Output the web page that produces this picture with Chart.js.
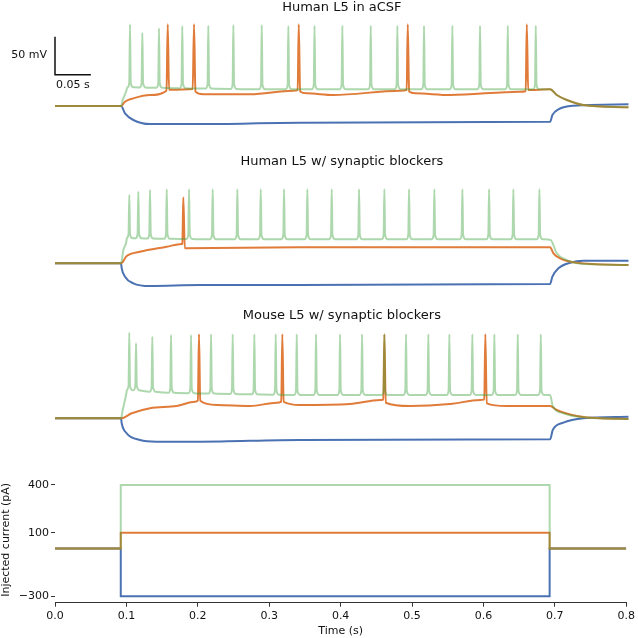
<!DOCTYPE html>
<html>
<head>
<meta charset="utf-8">
<script src="https://cdn.jsdelivr.net/npm/chart.js@4.4.0/dist/chart.umd.min.js"></script>
<style>
  html, body { margin: 0; padding: 0; background: #fff; }
  #wrap { position: relative; width: 638px; height: 638px; }
  canvas { position: absolute; left: 0; }
</style>
</head>
<body>
<div id="wrap">
  <canvas id="p1" style="top:0px" width="638" height="140"></canvas>
  <canvas id="p2" style="top:145px" width="638" height="150"></canvas>
  <canvas id="p3" style="top:300px" width="638" height="155"></canvas>
  <canvas id="p4" style="top:460px" width="638" height="178"></canvas>
</div>
<script>
// ---- data (time in s, voltage in mV, current in pA) ----
const xTicks = [0, 0.1, 0.2, 0.3, 0.4, 0.5, 0.6, 0.7, 0.8];
const currentTicks = [-300, 100, 400];

// injected current steps
const curT = [0, 0.0921, 0.0921, 0.6927, 0.6927, 0.8];
const curGreen = [0, 0, 400, 400, 0, 0];
const curOrange = [0, 0, 100, 100, 0, 0];
const curBlue = [0, 0, -300, -300, 0, 0];

// Human L5 in aCSF
const p1BlueT = [0, 0.0921, 0.0976, 0.1092, 0.1325, 0.2022, 0.3417, 0.6904, 0.6936, 0.702, 0.7229, 0.8];
const p1BlueV = [-70, -70, -79.6, -88.4, -93.7, -93.7, -92, -90.7, -81.8, -74.3, -69.6, -67.8];
const p1OrangeT = [0, 0.0921, 0.0976, 0.1092, 0.1325, 0.1555, 0.1572, 0.1590, 0.1920, 0.1939, 0.1958, 0.2068, 0.2720, 0.3320, 0.3384, 0.3399, 0.3418, 0.3510, 0.3881, 0.4810, 0.4904, 0.4919, 0.4938, 0.5021, 0.5509, 0.6485, 0.6564, 0.6579, 0.6598, 0.6649, 0.6904, 0.6997, 0.7137, 0.7368, 0.8];
const p1OrangeV = [-70, -70, -64.3, -59.9, -55.5, -49.9, 37.5, -48.5, -47.5, 37.5, -51, -54.6, -54.6, -49.9, -49, 37.5, -51, -53.3, -55.5, -49.9, -49, 37.5, -51, -53.3, -55.5, -51.2, -50.5, 37.5, -49, -48.9, -48, -55.5, -62.1, -68.7, -71.7];
const p1GreenPreT = [0, 0.0921, 0.0944, 0.0990];
const p1GreenPreV = [-70, -70, -62.1, -51.2];
const p1GreenSpikes = [0.1046, 0.1218, 0.1450, 0.1775, 0.2138, 0.2487, 0.2883, 0.3254, 0.3619, 0.4007, 0.4403, 0.4774, 0.5146, 0.5541, 0.5927, 0.6314, 0.6704];
const p1GreenPeaks = [37.5, 26.4, 32.2, 35.3, 35.7, 36.6, 36.6, 35.3, 35.7, 35.7, 35.7, 35.7, 35.7, 35.7, 35.7, 35.7, 35.7];
const p1GreenBases = [-45.4, -45.5, -46, -46.5, -47, -47.5, -48, -48, -48, -48, -48, -48, -48, -48, -48, -48, -48];
const p1GreenPostT = [0.6904, 0.6997, 0.7137, 0.7368, 0.8];
const p1GreenPostV = [-48, -55.5, -62.1, -68.7, -71.7];

// Human L5 w/ synaptic blockers
const p2BlueT = [0, 0.0921, 0.093, 0.0976, 0.1092, 0.1325, 0.2022, 0.3417, 0.6904, 0.6936, 0.702, 0.7183, 0.7368, 0.8];
const p2BlueV = [-70, -70, -76.6, -87.6, -96.3, -99.9, -98.6, -98.6, -97.2, -87.6, -76.6, -69.2, -66.6, -66.6];
const p2OrangeT = [0, 0.0921, 0.1000, 0.1185, 0.1558, 0.1767, 0.1776, 0.1789, 0.1810, 0.3417, 0.6671, 0.6904, 0.6950, 0.7043, 0.7276, 0.8];
const p2OrangeV = [-70, -70, -60.4, -54.7, -48.2, -44.6, -44.3, 16.8, -50.3, -48.9, -48.9, -48.9, -56.8, -63.4, -69.2, -72.2];
const p2GreenPreT = [0, 0.0921, 0.0953, 0.0995];
const p2GreenPreV = [-70, -70, -52.5, -41.6];
const p2GreenSpikes = [0.1036, 0.1162, 0.1325, 0.1558, 0.1869, 0.2199, 0.2543, 0.2869, 0.3194, 0.3519, 0.3859, 0.4240, 0.4593, 0.4937, 0.5290, 0.5681, 0.6053, 0.6392, 0.6755];
const p2GreenPeaks = [19.9, 24.2, 26.4, 27.4, 27.4, 27.4, 27.4, 27.4, 27.4, 27.4, 27.4, 27.4, 27.4, 27.4, 27.4, 27.4, 27.4, 27.4, 27.4];
const p2GreenBases = [-37.1, -37.1, -37.5, -37.8, -38, -38.4, -38.4, -38.4, -38.4, -38.4, -38.4, -38.4, -38.4, -38.4, -38.4, -38.4, -38.4, -38.4, -38.4];
const p2GreenPostT = [0.6911, 0.6997, 0.7137, 0.7368, 0.8];
const p2GreenPostV = [-39.3, -56.8, -65.7, -70.9, -72.2];

// Mouse L5 w/ synaptic blockers
const p3BlueT = [0, 0.0921, 0.093, 0.1, 0.1185, 0.1418, 0.2022, 0.3417, 0.6904, 0.6941, 0.7089, 0.7368, 0.8];
const p3BlueV = [-70, -70, -76.6, -89.7, -98.6, -100.8, -100.8, -98.6, -97.6, -85.4, -75.8, -70, -67.9];
const p3OrangeT = [0, 0.0921, 0.107, 0.1325, 0.1697, 0.1953, 0.1992, 0.2008, 0.2025, 0.2255, 0.272, 0.3092, 0.3155, 0.317, 0.3188, 0.3417, 0.4114, 0.4533, 0.4578, 0.4593, 0.4612, 0.4951, 0.5509, 0.5927, 0.5986, 0.6001, 0.602, 0.63, 0.6904, 0.6997, 0.7276, 0.7601, 0.8];
const p3OrangeV = [-70, -70, -63.4, -56.8, -53.8, -48.2, -46.5, 40.5, -47, -52.5, -53.8, -49.5, -48, 40.5, -48.2, -52.5, -51.2, -45.9, -45, 40.5, -49.5, -53.8, -51.2, -45.9, -45, 40.5, -50.3, -53.8, -53.8, -59.1, -67, -70, -70.9];
const p3GreenPreT = [0, 0.0921, 0.0944, 0.0976, 0.0995];
const p3GreenPreV = [-70, -70, -59.1, -45.9, -37];
const p3GreenSpikes = [0.1036, 0.1130, 0.1357, 0.1618, 0.1897, 0.2176, 0.2478, 0.2780, 0.3078, 0.3371, 0.3640, 0.3975, 0.4282, 0.4593, 0.4895, 0.5206, 0.5499, 0.5820, 0.6127, 0.6453, 0.6774];
const p3GreenPeaks = [42.6, 28.7, 37.4, 39.6, 39.6, 40.5, 40.5, 40.5, 40.5, 40.5, 40.5, 40.5, 40.5, 40.5, 40.5, 40.5, 40.5, 40.5, 40.5, 40.5, 40.5];
const p3GreenBases = [-33, -33, -35, -36.5, -37, -37.5, -38, -38.5, -39, -39.3, -39.3, -39.3, -39.3, -39.3, -39.3, -39.3, -39.3, -39.3, -39.3, -39.3, -39.3];
const p3GreenPostT = [0.6904, 0.6941, 0.7089, 0.7368, 0.8];
const p3GreenPostV = [-39.3, -53.8, -63.4, -68.7, -70.9];

// ---- drawing ----
const BLUE = '#4a72b3';
const ORANGE = '#e07b39';
const GREEN = 'rgba(60,160,60,0.42)';
const FONT = 'DejaVu Sans';

function pts(T, V) {
  return T.map((t, i) => ({ x: t, y: V[i] }));
}

// spike outline: shoulder before, foot, peak, foot, shoulder after (s / mV offsets)
const SP_PRE = 0.0035, SP_W = 0.0010, SP_POST = 0.0045, SP_FOOT = 6;
function spikeTrain(preT, preV, times, peaks, bases, postT, postV) {
  let out = pts(preT, preV);
  times.forEach((t, i) => {
    const b = bases[i];
    out.push(
      { x: t - SP_PRE, y: b },
      { x: t - SP_W, y: b + SP_FOOT },
      { x: t, y: peaks[i] },
      { x: t + SP_W, y: b + SP_FOOT },
      { x: t + SP_POST, y: b }
    );
  });
  return out.concat(pts(postT, postV));
}

function lineSet(data, color, order) {
  return { data: data, borderColor: color, borderWidth: 2, pointRadius: 0, order: order, fill: false };
}

function titlePlugin(text, y) {
  return {
    id: 'panelTitle',
    afterDraw(chart) {
      const ctx = chart.ctx, a = chart.chartArea;
      ctx.save();
      ctx.font = '13px "' + FONT + '"';
      ctx.fillStyle = '#111';
      ctx.textAlign = 'center';
      ctx.textBaseline = 'alphabetic';
      ctx.fillText(text, (a.left + a.right) / 2, y);
      ctx.restore();
    }
  };
}

const scaleBar = {
  id: 'scaleBar',
  afterDraw(chart) {
    const ctx = chart.ctx, x = chart.scales.x, y = chart.scales.y;
    const x0 = x.getPixelForValue(0), x1 = x.getPixelForValue(0.05);
    const y0 = y.getPixelForValue(-28.8), y1 = y.getPixelForValue(-28.8 + 50);
    ctx.save();
    ctx.strokeStyle = '#111';
    ctx.lineWidth = 1.5;
    ctx.beginPath();
    ctx.moveTo(x0, y1);
    ctx.lineTo(x0, y0);
    ctx.lineTo(x1, y0);
    ctx.stroke();
    ctx.font = '11px "' + FONT + '"';
    ctx.fillStyle = '#111';
    ctx.textAlign = 'right';
    ctx.fillText('50 mV', x0 - 8, (y0 + y1) / 2 + 2);
    ctx.textAlign = 'left';
    ctx.fillText('0.05 s', x0 + 1, y0 + 13);
    ctx.restore();
  }
};

function voltageChart(id, title, titleY, yMin, yMax, blue, orange, green, extra) {
  return new Chart(document.getElementById(id), {
    type: 'line',
    data: { datasets: [lineSet(green, GREEN, 1), lineSet(orange, ORANGE, 2), lineSet(blue, BLUE, 3)] },
    options: {
      responsive: false,
      animation: false,
      devicePixelRatio: 1,
      layout: { padding: { left: 55, right: 9.3, top: 0, bottom: 0 } },
      elements: { line: { cubicInterpolationMode: 'monotone', borderJoinStyle: 'round' } },
      scales: {
        x: { type: 'linear', min: 0, max: 0.8, display: false },
        y: { type: 'linear', min: yMin, max: yMax, display: false }
      },
      plugins: { legend: { display: false }, tooltip: { enabled: false } }
    },
    plugins: [titlePlugin(title, titleY)].concat(extra || [])
  });
}

voltageChart('p1', 'Human L5 in aCSF', 11, -114.7, 69.5,
  pts(p1BlueT, p1BlueV), pts(p1OrangeT, p1OrangeV),
  spikeTrain(p1GreenPreT, p1GreenPreV, p1GreenSpikes, p1GreenPeaks, p1GreenBases, p1GreenPostT, p1GreenPostV),
  [scaleBar]);

voltageChart('p2', 'Human L5 w/ synaptic blockers', 20, -111.7, 85.7,
  pts(p2BlueT, p2BlueV), pts(p2OrangeT, p2OrangeV),
  spikeTrain(p2GreenPreT, p2GreenPreV, p2GreenSpikes, p2GreenPeaks, p2GreenBases, p2GreenPostT, p2GreenPostV));

voltageChart('p3', 'Mouse L5 w/ synaptic blockers', 18.5, -118.3, 85.7,
  pts(p3BlueT, p3BlueV), pts(p3OrangeT, p3OrangeV),
  spikeTrain(p3GreenPreT, p3GreenPreV, p3GreenSpikes, p3GreenPeaks, p3GreenBases, p3GreenPostT, p3GreenPostV));

const tickFont = { family: FONT, size: 11 };
new Chart(document.getElementById('p4'), {
  type: 'line',
  data: {
    datasets: [
      lineSet(pts(curT, curGreen), GREEN, 1),
      lineSet(pts(curT, curOrange), ORANGE, 2),
      lineSet(pts(curT, curBlue), BLUE, 3)
    ]
  },
  options: {
    responsive: false,
    animation: false,
    devicePixelRatio: 1,
    layout: { padding: { left: 0, right: 9.3, top: 17, bottom: 0 } },
    scales: {
      x: {
        type: 'linear', min: 0, max: 0.8,
        afterFit(s) { s.height = 35.3; },
        afterBuildTicks(s) { s.ticks = xTicks.map(v => ({ value: v })); },
        ticks: { callback: v => v.toFixed(1), font: tickFont, color: '#111', padding: 3, maxRotation: 0, autoSkip: false },
        grid: { drawOnChartArea: false, tickLength: 4, color: '#333' },
        border: { display: true, color: '#333', width: 1 },
        title: { display: true, text: 'Time (s)', font: tickFont, color: '#111', padding: 0 }
      },
      y: {
        type: 'linear', min: -340, max: 450,
        afterFit(s) { s.width = 55; },
        afterBuildTicks(s) { s.ticks = currentTicks.map(v => ({ value: v })); },
        ticks: { callback: v => (v < 0 ? '\u2212' + Math.abs(v) : String(v)), font: tickFont, color: '#111', padding: 2 },
        grid: { drawOnChartArea: false, tickLength: 4, color: '#333' },
        border: { display: false },
        title: { display: true, text: 'Injected current (pA)', font: tickFont, color: '#111', padding: 0 }
      }
    },
    plugins: { legend: { display: false }, tooltip: { enabled: false } }
  }
});
</script>
</body>
</html>
